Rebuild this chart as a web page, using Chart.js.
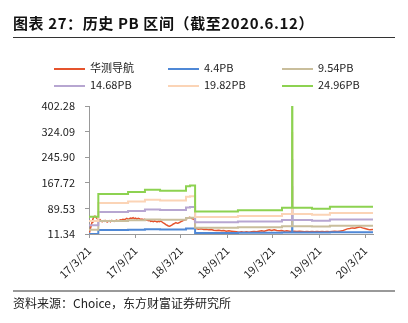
<!DOCTYPE html>
<html><head><meta charset="utf-8">
<script src="https://cdn.jsdelivr.net/npm/chart.js@4.4.0/dist/chart.umd.min.js"></script>
<style>
html,body{margin:0;padding:0;background:#fff;}
body{width:408px;height:323px;position:relative;overflow:hidden;font-family:"Noto Sans CJK SC",sans-serif;color:#222;}
#c{position:absolute;left:0;top:0;}
.title{position:absolute;left:13px;top:13px;font-size:15px;font-weight:bold;line-height:20px;white-space:nowrap;color:#111;letter-spacing:0.6px;}
.rule1{position:absolute;left:13px;top:37px;width:382px;height:1px;background:#333;}
.leg{position:absolute;font-size:11px;line-height:14px;white-space:nowrap;color:#222;}
.leg i{display:inline-block;width:31px;height:2px;vertical-align:middle;margin-right:5px;}
.rule2{position:absolute;left:13px;top:290px;width:382px;height:2px;background:#999;}
.src{position:absolute;left:13px;top:295px;font-size:12px;line-height:16px;color:#222;}
</style></head><body>
<canvas id="c" width="408" height="323"></canvas>
<div class="title">图表 27：历史 PB 区间（截至2020.6.12）</div>
<div class="rule1"></div>
<div id="legend"></div>
<div class="rule2"></div>
<div class="src">资料来源：Choice，东方财富证券研究所</div>
<script>
// ---- data ----
const seriesNames = ['华测导航', '4.4PB', '9.54PB', '14.68PB', '19.82PB', '24.96PB'];
const seriesColors = ['#E5532D', '#4F88D6', '#C9BE9C', '#B7A6D1', '#FBD4B6', '#8DD251'];

// x = days since 2017-03-21
const xTickDay = [0, 184, 365, 549, 730, 914, 1096];
const xTickLabels = ['17/3/21', '17/9/21', '18/3/21', '18/9/21', '19/3/21', '19/9/21', '20/3/21'];
const xMaxDay = 1127;

const yTicks = [11.34, 89.53, 167.72, 245.90, 324.09, 402.28];
const yTickLabels = ['11.34', '89.53', '167.72', '245.90', '324.09', '402.28'];

// PB band breakpoints (step lines)
const bandDay = [0, 37, 155, 222, 282, 385, 401, 421, 591, 766, 806, 807, 885, 956, 1127];
const pb44   = [11.34, 23.50, 24.55, 25.78, 25.26, 27.76, 28.16, 14.12, 14.78, 16.15, 70.91, 16.15, 15.62, 16.68, 16.68];
const pb954  = [24.58, 50.94, 53.23, 55.90, 54.76, 60.20, 61.06, 30.62, 32.05, 35.01, 153.76, 35.01, 33.87, 36.16, 36.16];
const pb1468 = [37.83, 78.39, 81.91, 86.02, 84.26, 92.63, 93.95, 47.12, 49.32, 53.88, 236.60, 53.88, 52.11, 55.64, 55.64];
const pb1982 = [51.08, 105.84, 110.60, 116.15, 113.77, 125.06, 126.85, 63.62, 66.60, 72.74, 319.44, 72.74, 70.36, 75.12, 75.12];
const pb2496 = [64.32, 133.29, 139.28, 146.27, 143.27, 157.50, 159.74, 80.12, 83.87, 91.60, 402.28, 91.60, 88.61, 94.60, 94.60];

// share price
const priceDay = [0,3,6,9,12,15,18,21,24,27,30,33,36,40,44,48,52,56,60,64,68,72,76,80,85,90,95,100,105,110,115,120,125,130,135,140,145,150,155,160,165,170,175,180,185,190,195,200,205,210,215,220,225,230,235,240,245,250,255,260,265,270,275,280,285,290,295,300,305,310,315,320,325,330,335,340,345,350,355,360,365,370,375,380,385,390,395,400,405,410,415,419,421,425,435,445,455,465,475,485,495,505,515,525,535,545,555,565,575,585,595,605,615,625,635,645,655,665,675,685,695,705,715,725,735,745,755,765,775,785,795,805,815,825,835,845,855,865,875,885,895,905,915,925,935,945,955,965,975,985,995,1005,1015,1025,1035,1045,1055,1065,1075,1085,1095,1105,1115,1127];
const priceVal = [18,22,29,38,47,56,62,65,66,63,60,58,56,53,55,51,49,52,50,53,51,48,50,52,49,53,51,50,52,54,51,53,55,54,56,55,57,59,57,58,60,59,61,58,60,57,59,58,56,57,55,56,54,55,52,53,50,51,49,51,50,48,50,49,51,48,45,43,40,38,36,35,37,39,42,44,46,44,45,47,49,51,53,54,56,59,61,62,60,58,57,55,30,28,26,27,25,26,24,25,23,22,23,21,22,20,21,20,19,18,17,18,17,18,17,18,19,18,20,21,20,22,24,22,24,22,21,22,20,21,20,19,20,19,20,19,18,19,18,19,18,19,18,19,18,19,18,19,20,19,20,21,24,27,28,30,29,31,33,30,28,26,24,25];

// ---- legend ----
const legCols = [54, 168, 282];
const legRows = [60, 77];
const legEl = document.getElementById('legend');
seriesNames.forEach((n, i) => {
  const d = document.createElement('div');
  d.className = 'leg';
  d.style.left = legCols[i % 3] + 'px';
  d.style.top = legRows[Math.floor(i / 3)] + 'px';
  d.innerHTML = '<i style="background:' + seriesColors[i] + '"></i>' + n;
  legEl.appendChild(d);
});

// ---- chart ----
const bands = [pb44, pb954, pb1468, pb1982, pb2496];
const datasets = [{
  label: seriesNames[0],
  data: priceDay.map((d, i) => ({x: d, y: priceVal[i]})),
  borderColor: seriesColors[0], borderWidth: 1.5, order: 5
}];
bands.forEach((b, k) => {
  datasets.push({
    label: seriesNames[k + 1],
    data: bandDay.map((d, i) => ({x: d, y: b[i]})),
    borderColor: seriesColors[k + 1], borderWidth: 2, stepped: true, order: 4 - k
  });
});

Chart.defaults.font.family = '"Noto Sans CJK SC", sans-serif';
new Chart(document.getElementById('c'), {
  type: 'line',
  data: {datasets},
  options: {
    responsive: false, animation: false, devicePixelRatio: 1,
    layout: {padding: {top: 106, right: 35, left: 0, bottom: 0}},
    plugins: {legend: {display: false}, title: {display: false}, tooltip: {enabled: false}},
    elements: {point: {radius: 0}, line: {tension: 0, fill: false}},
    scales: {
      x: {
        type: 'linear', min: 0, max: xMaxDay, offset: false,
        afterFit(s) { s.height = 89; },
        afterBuildTicks(s) { s.ticks = xTickDay.map(v => ({value: v})); },
        ticks: {autoSkip: false, maxRotation: 45, minRotation: 45, padding: 6, color: '#222', font: {size: 11},
          callback: (v, i) => xTickLabels[i]},
        grid: {drawOnChartArea: false, drawTicks: true, tickLength: 4, color: '#999'},
        border: {display: true, color: '#999', width: 1}
      },
      y: {
        min: yTicks[0], max: yTicks[yTicks.length - 1],
        afterFit(s) { s.width = 89; },
        afterBuildTicks(s) { s.ticks = yTicks.map(v => ({value: v})); },
        ticks: {padding: 10, color: '#222', font: {size: 11}, callback: (v, i) => yTickLabels[i]},
        grid: {drawOnChartArea: false, drawTicks: true, tickLength: 4, color: '#999'},
        border: {display: true, color: '#999', width: 1}
      }
    }
  }
});
</script>
</body></html>
